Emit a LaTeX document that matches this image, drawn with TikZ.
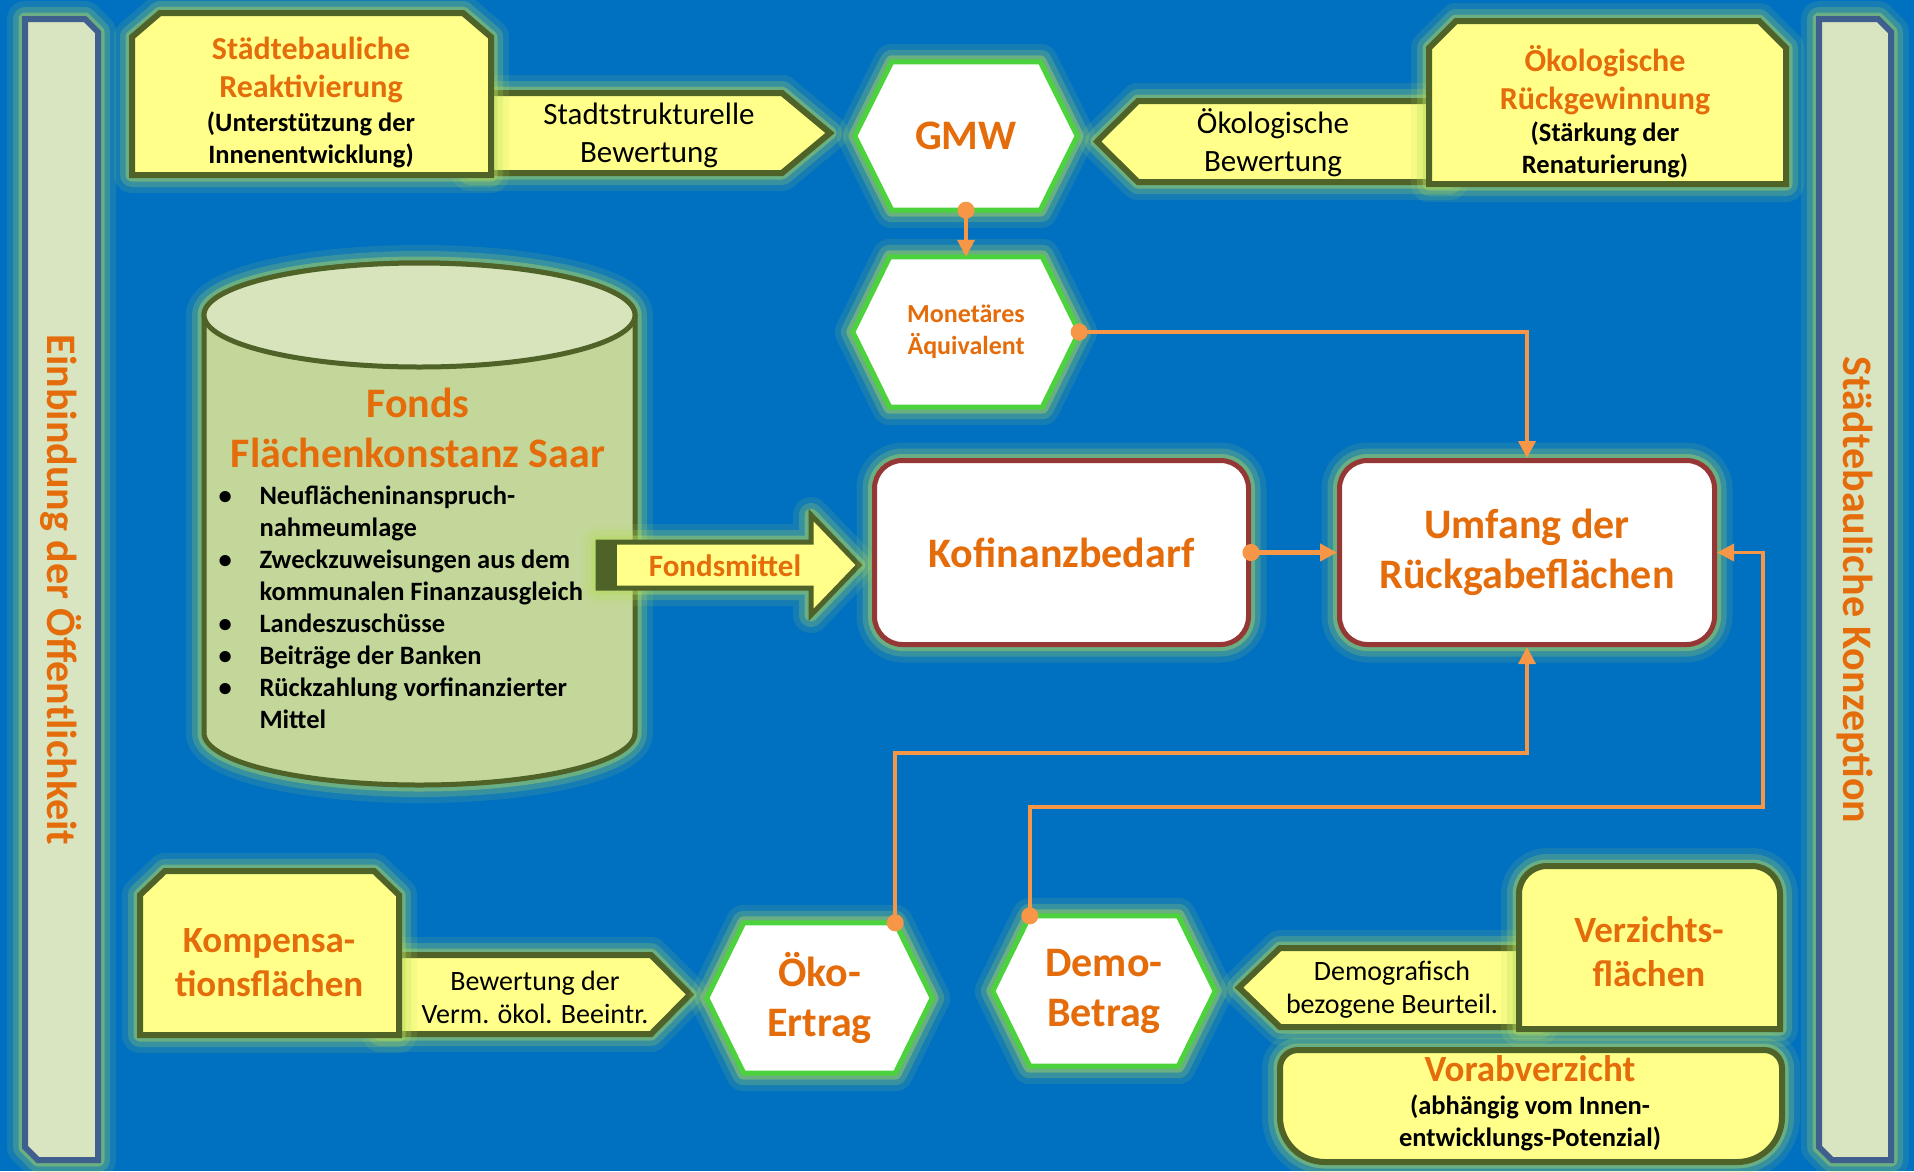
\documentclass[tikz,border=0pt]{standalone}
\usepackage{fontspec}
\setmainfont{Carlito}
\usetikzlibrary{arrows.meta,backgrounds}

\definecolor{bgblue}{HTML}{0070C0}
\definecolor{boxyellow}{HTML}{FFFF8A}
\definecolor{boxline}{HTML}{4F6228}
\definecolor{titleorange}{HTML}{E46C0A}
\definecolor{linkorange}{HTML}{F79646}
\definecolor{hexgreen}{HTML}{4CD23C}
\definecolor{kofired}{HTML}{953735}
\definecolor{cylside}{HTML}{C4D79B}
\definecolor{cyltop}{HTML}{D8E4BC}
\definecolor{barfill}{HTML}{D9E4C0}
\definecolor{barline}{HTML}{3F5F8F}
\definecolor{glowgreen}{HTML}{B4DC5A}

% hexagon outline around an (invisible) node
\newcommand\hexoutline[2]{(#1.west) -- ([xshift=#2]#1.north west) -- ([xshift=-#2]#1.north east) -- (#1.east) -- ([xshift=-#2]#1.south east) -- ([xshift=#2]#1.south west) -- cycle}

\tikzset{
  glow/.style={preaction={draw=glowgreen,draw opacity=.12,line width=36pt,line join=round},
    preaction={draw=glowgreen,draw opacity=.22,line width=24pt,line join=round},
    preaction={draw=glowgreen,draw opacity=.4,line width=13pt,line join=round}},
  yellowbox/.style={glow,fill=boxyellow,draw=boxline,line width=6pt},
  hexbox/.style={glow,fill=white,draw=hexgreen,line width=5pt},
  roundbox/.style={glow,fill=white,draw=kofired,line width=5pt,rounded corners=28pt},
  barbox/.style={glow,fill=barfill,draw=barline,line width=6pt},
  hull/.style={inner sep=0pt},
  bigtitle/.style={text=titleorange,font=\bfseries\fontsize{42}{50}\selectfont,align=center},
  midtitle/.style={text=titleorange,font=\bfseries\fontsize{37}{44}\selectfont,align=center},
  boxtitle/.style={text=titleorange,font=\bfseries\fontsize{32}{38}\selectfont,align=center},
  monet/.style={text=titleorange,font=\bfseries\fontsize{26}{32}\selectfont,align=center},
  boxsub/.style={font=\bfseries\fontsize{26.5}{32}\selectfont,align=center},
  arrowtext/.style={font=\fontsize{31}{38}\selectfont,align=center},
  smallarrow/.style={font=\fontsize{28}{33}\selectfont,align=center},
  link/.style={draw=linkorange,line width=3.5pt,
    {Circle[length=17pt]}-{Triangle[length=17pt,width=17pt]},shorten <=-8.5pt}
}

\begin{document}
\begin{tikzpicture}[x=1pt,y=-1pt]
\useasboundingbox (0,0) rectangle (1914,1171);

% hexagon nodes
\node[hull,bigtitle,minimum width=222pt,minimum height=148pt] (gmw) at (966,136) {GMW};
\node[hull,monet,minimum width=226pt,minimum height=150pt] (aequi) at (966,332) {Monetäres\\Äquivalent};
\node[hull,bigtitle,minimum width=225pt,minimum height=150pt] (oko) at (819.5,998) {Öko-\\Ertrag};
\node[hull,bigtitle,minimum width=222pt,minimum height=150pt] (demo) at (1104,991) {Demo-\\Betrag};

\begin{scope}[on background layer]
  \fill[bgblue] (0,0) rectangle (1914,1171);
  % side bars
  \draw[barbox] (25,19) -- (85,19) -- (98,32) -- (98,1160) -- (38,1160) -- (25,1147) -- cycle;
  \draw[barbox] (1819,19) -- (1878,19) -- (1891,32) -- (1891,1160) -- (1832,1160) -- (1819,1147) -- cycle;
  % top row
  \draw[yellowbox] (470,93) -- (782,93) -- (830,133) -- (782,173) -- (470,173) -- cycle;
  \draw[yellowbox] (132,175) -- (132,37) -- (160,13) -- (463,13) -- (491,37) -- (491,175) -- cycle;
  \draw[yellowbox] (1450,101) -- (1138,101) -- (1097,141.5) -- (1138,182) -- (1450,182) -- cycle;
  \draw[yellowbox] (1429,184) -- (1429,48) -- (1456,21) -- (1759,21) -- (1786,48) -- (1786,184) -- cycle;
  \draw[hexbox] \hexoutline{gmw}{37pt};
  \draw[hexbox] \hexoutline{aequi}{37pt};
  % fonds
  \draw[glow,fill=cylside,draw=boxline,line width=5pt] (204,315) -- (204,733)
    arc[start angle=180,end angle=360,x radius=215.5pt,y radius=52pt] -- (635,315)
    arc[start angle=0,end angle=180,x radius=215.5pt,y radius=52pt] -- cycle;
  \draw[fill=cyltop,draw=boxline,line width=5pt] (419.5,315) ellipse [x radius=215.5pt,y radius=52pt];
  \draw[yellowbox,line width=5pt] (598,542) -- (811,542) -- (811,515) -- (859,565) -- (811,615) -- (811,588) -- (598,588) -- cycle;
  \fill[boxline] (598,542) rectangle (617,588);
  % bottom row
  \draw[yellowbox] (380,955) -- (651,955) -- (690,994.5) -- (651,1034) -- (380,1034) -- cycle;
  \draw[yellowbox] (140,1035) -- (140,895) -- (165,871) -- (374,871) -- (399,895) -- (399,1035) -- cycle;
  \draw[hexbox] \hexoutline{oko}{37pt};
  \draw[hexbox] \hexoutline{demo}{37pt};
  \draw[yellowbox] (1540,948) -- (1280,948) -- (1239,987.5) -- (1280,1027) -- (1540,1027) -- cycle;
  \draw[yellowbox] (1519,1029) -- (1519,894) arc[start angle=180,end angle=90,radius=28pt]
    -- (1752,866) arc[start angle=90,end angle=0,radius=28pt] -- (1780,1029) -- cycle;
  \draw[yellowbox] (1280,1068) arc[start angle=180,end angle=90,radius=18pt]
    -- (1764,1050) arc[start angle=90,end angle=0,radius=18pt] -- (1782,1117)
    arc[start angle=0,end angle=-90,radius=45pt] -- (1325,1162)
    arc[start angle=270,end angle=180,radius=45pt] -- cycle;
\end{scope}

% rounded boxes
\node[roundbox,bigtitle,minimum width=374pt,minimum height=184pt] (kofi) at (1061.5,552.5) {Kofinanzbedarf};
\node[roundbox,bigtitle,minimum width=375pt,minimum height=184pt] (umfang) at (1527,552.5) {Umfang der\\Rückgabeflächen};

% texts
\node[bigtitle,rotate=-90] (einb) at (61,590) {Einbindung der Öffentlichkeit};
\node[bigtitle,rotate=-90] (konz) at (1855,590) {Städtebauliche Konzeption};
\node[boxtitle] (reaktT) at (311,70) {Städtebauliche\\Reaktivierung};
\node[boxsub] (reaktS) at (311,140) {(Unterstützung der\\Innenentwicklung)};
\node[arrowtext] (stadtT) at (649,135) {Stadtstrukturelle\\Bewertung};
\node[arrowtext] (oekbewT) at (1273,143) {Ökologische\\Bewertung};
\node[boxtitle] (rueckT) at (1605,80) {Ökologische\\Rückgewinnung};
\node[boxsub] (rueckS) at (1605,150) {(Stärkung der\\Renaturierung)};
\node[bigtitle] (fondsT) at (418,428) {Fonds\\Flächenkonstanz Saar};
\node[font=\bfseries\fontsize{26.5}{32}\selectfont,anchor=west] (fondsL) at (215,610) {%
  \begin{tabular}{@{}p{41pt}@{}l@{}}
  \textbullet & Neuflächeninanspruch-\\
              & nahmeumlage\\
  \textbullet & Zweckzuweisungen aus dem\\
              & kommunalen Finanzausgleich\\
  \textbullet & Landeszuschüsse\\
  \textbullet & Beiträge der Banken\\
  \textbullet & Rückzahlung vorfinanzierter\\
              & Mittel
  \end{tabular}};
\node[text=titleorange,font=\bfseries\fontsize{31}{38}\selectfont] (fondsmT) at (725,566) {Fondsmittel};
\node[midtitle] (kompT) at (269,963) {Kompensa-\\tionsflächen};
\node[smallarrow] (vermT) at (535,997) {Bewertung der\\Verm. ökol. Beeintr.};
\node[smallarrow] (demoT) at (1392,990) {Demografisch\\bezogene Beurteil.};
\node[midtitle] (verzT) at (1649,952) {Verzichts-\\flächen};
\node[midtitle] (vorabT) at (1530,1069) {Vorabverzicht};
\node[boxsub] (vorabS) at (1530,1123) {(abhängig vom Innen-\\entwicklungs-Potenzial)};

% connectors
\coordinate (okoBend) at (umfang.south |- 0,753);
\coordinate (demoBend) at (1763,807);
\draw[link] (gmw.south) -- (aequi.north);
\draw[link] (aequi.east) -| (umfang.north);
\draw[link,line width=5.5pt] (kofi.east) -- (umfang.west);
\draw[link] ([xshift=-37pt]oko.north east) |- (okoBend) -- (umfang.south);
\draw[link] ([xshift=37pt]demo.north west) |- (demoBend) |- (umfang.east);
\end{tikzpicture}
\end{document}
